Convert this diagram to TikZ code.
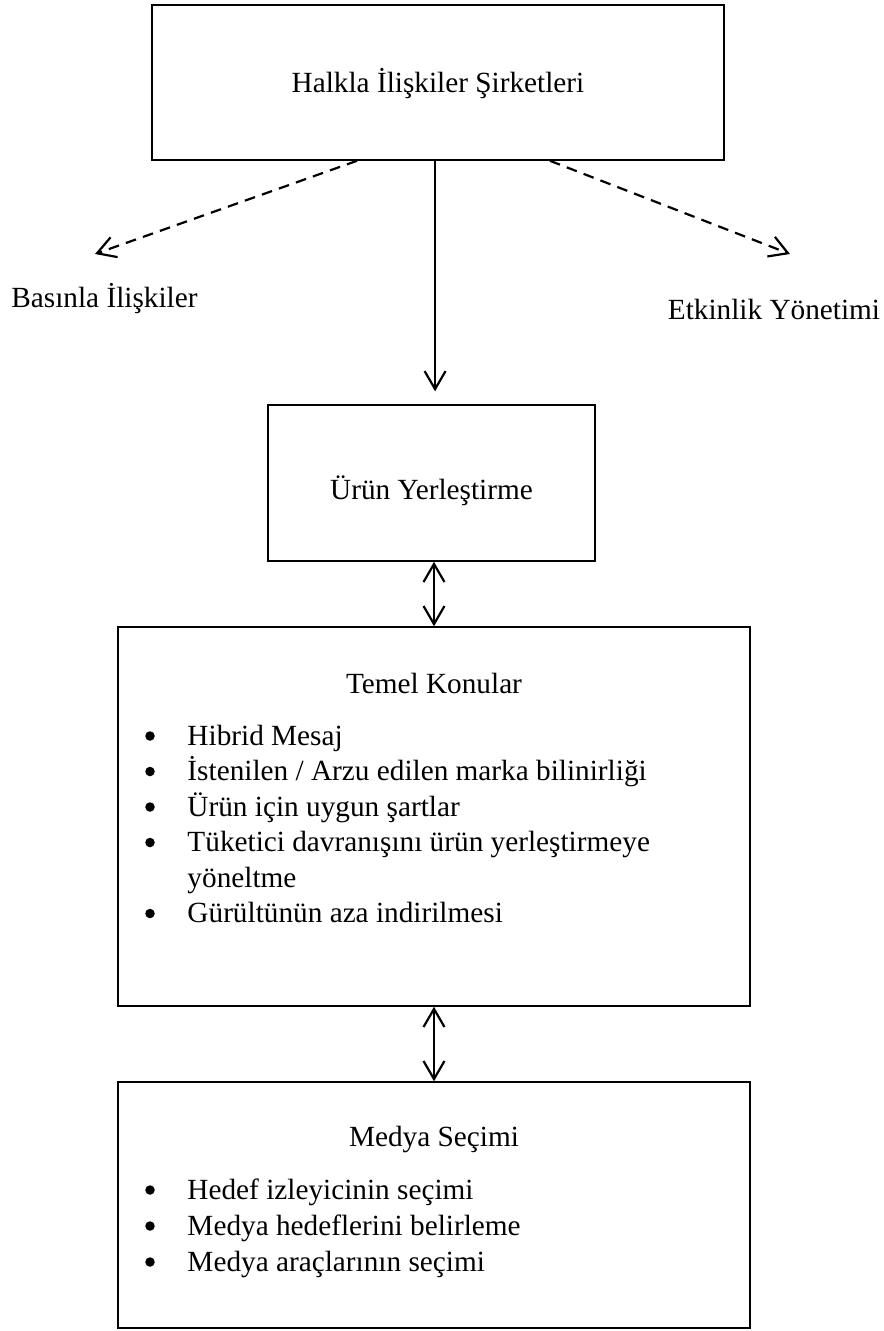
\documentclass[tikz,border=0pt]{standalone}
\usepackage{fontspec}
\setmainfont{Liberation Serif}
\usetikzlibrary{arrows.meta}
\begin{document}
\begin{tikzpicture}[x=0.41pt,y=-0.41pt,
  box/.style={draw,line width=0.6pt,inner sep=0pt},
  txt/.style={inner sep=0pt,font=\fontsize{12pt}{14.56pt}\selectfont},
  lbl/.style={txt,anchor=base},
  item/.style={txt,anchor=base west},
  bullet/.style={circle,fill,inner sep=0pt,minimum size=3.9pt},
  barb/.tip={Straight Barb[length=7.4pt,width=8.6pt]},
  link/.style={line width=0.9pt,-barb},
  dlink/.style={line width=0.9pt,barb-barb},
  dashlink/.style={link,dash pattern=on 4.4pt off 3pt}]
\useasboundingbox (0,0) rectangle (884,1331);

% boxes
\node[box,minimum width=234.5pt,minimum height=63.6pt] (top) at (438,82.5) {};
\node[box,minimum width=134.1pt,minimum height=64pt] (urun) at (431.5,483) {};
\node[box,minimum width=259.1pt,minimum height=155.4pt] (temel) at (434,816.5) {};
\node[box,minimum width=259.1pt,minimum height=100.9pt] (medya) at (434,1205) {};

% titles and side labels
\node[lbl] (ttop) at (438,92) {Halkla İlişkiler Şirketleri};
\node[lbl] (tbas) at (104.5,307) {Basınla İlişkiler};
\node[lbl] (tetk) at (774,319) {Etkinlik Yönetimi};
\node[lbl] (turun) at (431.5,499) {Ürün Yerleştirme};
\node[lbl] (ttemel) at (434,693) {Temel Konular};
\node[lbl] (tmedya) at (434,1146) {Medya Seçimi};

% bullet list: Temel Konular
\foreach \y/\name/\t in {745/a/{Hibrid Mesaj},
    780.5/b/{İstenilen / Arzu edilen marka bilinirliği},
    816/c/{Ürün için uygun şartlar},
    851.5/d/{Tüketici davranışını ürün yerleştirmeye},
    922.5/e/{Gürültünün aza indirilmesi}}{
  \node[bullet] (bt\name) at (150,\y-9) {};
  \node[item] (it\name) at (187,\y) {\t};
}
\node[item] (itd2) at (187,887) {yöneltme};

% bullet list: Medya Seçimi
\foreach \y/\name/\t in {1199/a/{Hedef izleyicinin seçimi},
    1235/b/{Medya hedeflerini belirleme},
    1271/c/{Medya araçlarının seçimi}}{
  \node[bullet] (bm\name) at (150,\y-9) {};
  \node[item] (im\name) at (187,\y) {\t};
}

% connectors
\coordinate (lend) at (95,254);
\coordinate (rend) at (790,254);
\draw[dashlink] ([xshift=-33.2pt]top.south) -- (lend);
\draw[dashlink] ([xshift=45.9pt]top.south) -- (rend);
\draw[link,shorten >=5.3pt] ([xshift=-1.2pt]top.south) -- ([xshift=-1.2pt]top.south |- urun.north);
\draw[dlink] (urun.south -| temel.north) -- (temel.north);
\draw[dlink] (temel.south) -- (medya.north);
\end{tikzpicture}
\end{document}
